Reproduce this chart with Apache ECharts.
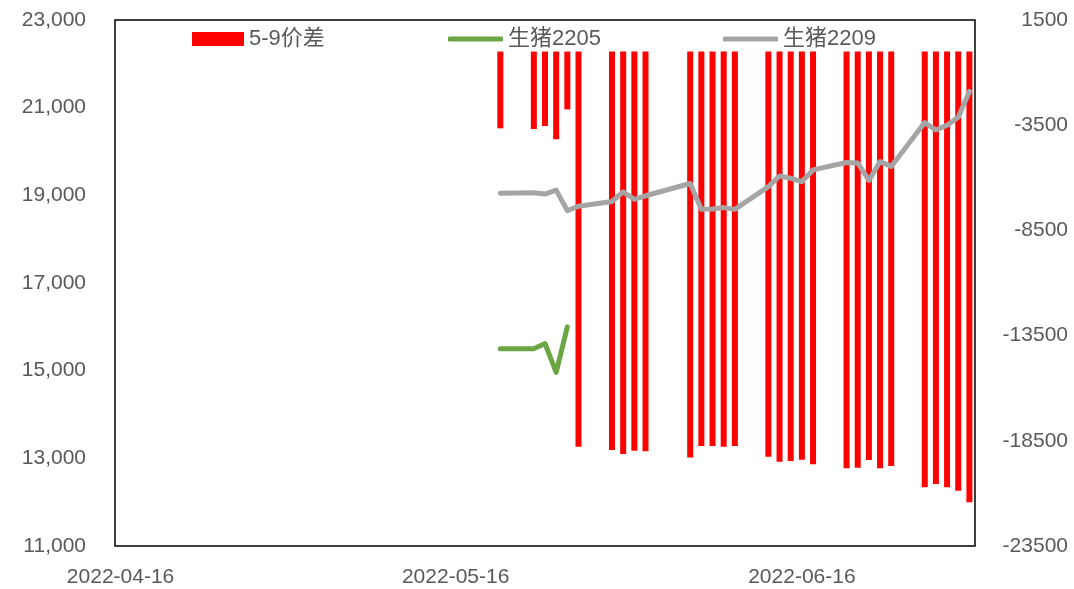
<!DOCTYPE html>
<html>
<head>
<meta charset="utf-8">
<script src="https://cdn.jsdelivr.net/npm/echarts@6/dist/echarts.min.js"></script>
<style>
html,body{margin:0;padding:0;background:#fff;}
#chart{width:1074px;height:589px;}
</style>
</head>
<body>
<div id="chart"></div>
<script>
// ---- data ----
const tradeDates = [
  '2022-05-20','2022-05-23','2022-05-24','2022-05-25','2022-05-26','2022-05-27',
  '2022-05-30','2022-05-31','2022-06-01','2022-06-02',
  '2022-06-06','2022-06-07','2022-06-08','2022-06-09','2022-06-10',
  '2022-06-13','2022-06-14','2022-06-15','2022-06-16','2022-06-17',
  '2022-06-20','2022-06-21','2022-06-22','2022-06-23','2022-06-24',
  '2022-06-27','2022-06-28','2022-06-29','2022-06-30','2022-07-01'
];
const spread59 = [
  -3650,-3680,-3540,-4170,-2750,-18780,
  -18940,-19130,-18970,-19000,
  -19290,-18750,-18750,-18780,-18750,
  -19260,-19490,-19460,-19400,-19620,
  -19810,-19780,-19410,-19810,-19700,
  -20710,-20550,-20710,-20870,-21420
];
const lh2205 = [15500,15500,15620,14960,16000];
const lh2209 = [
  19050,19060,19030,19120,18650,18750,
  18860,19080,18910,18990,
  19270,18680,18690,18720,18680,
  19200,19440,19390,19310,19580,
  19750,19740,19340,19770,19660,
  20660,20490,20600,20780,21370
];
const axisStart = '2022-04-16';
const axisEnd = '2022-07-01';
const xLabelDates = ['2022-04-16','2022-05-16','2022-06-16'];
const leftTicks = {min: 11000, max: 23000, interval: 2000};
const rightTicks = {min: -23500, max: 1500, interval: 5000};
const names = ['5-9价差','生猪2205','生猪2209'];

// ---- build calendar categories ----
function fmt(d){
  const m = String(d.getUTCMonth()+1).padStart(2,'0');
  const dd = String(d.getUTCDate()).padStart(2,'0');
  return d.getUTCFullYear()+'-'+m+'-'+dd;
}
const cats = [];
for (let t = Date.parse(axisStart+'T00:00:00Z'); t <= Date.parse(axisEnd+'T00:00:00Z'); t += 86400000) {
  cats.push(fmt(new Date(t)));
}
function mapTo(dates, vals){
  const m = {};
  dates.forEach((d,i)=>{ if (i < vals.length) m[d] = vals[i]; });
  return cats.map(c => (c in m) ? m[c] : null);
}
const barData = mapTo(tradeDates, spread59);
const g2205 = mapTo(tradeDates, lh2205);
const g2209 = mapTo(tradeDates, lh2209);

const FONT = "'Liberation Sans','Noto Sans CJK SC',sans-serif";
const TXT = '#595959';

const chart = echarts.init(document.getElementById('chart'), null, {renderer:'canvas'});
const legendText = {color: TXT, fontSize: 22, fontFamily: FONT};
chart.setOption({
  animation: false,
  backgroundColor: '#fff',
  grid: {left: 115, right: 99, top: 20, bottom: 43, show: true, borderColor: '#000', borderWidth: 1.5, backgroundColor: 'transparent'},
  legend: [
    {data: [names[0]], left: 192, top: 28, padding: 0, icon: 'rect', itemWidth: 52, itemHeight: 14, textStyle: legendText},
    {data: [names[1]], left: 448, top: 28, padding: 0, icon: 'roundRect', itemWidth: 55, itemHeight: 5, textStyle: legendText},
    {data: [names[2]], left: 723, top: 28, padding: 0, icon: 'roundRect', itemWidth: 55, itemHeight: 5, textStyle: legendText}
  ],
  xAxis: {
    type: 'category',
    data: cats,
    boundaryGap: true,
    axisLine: {show: false},
    axisTick: {show: false},
    splitLine: {show: false},
    axisLabel: {
      interval: (i, v) => xLabelDates.indexOf(v) >= 0,
      color: TXT, fontSize: 21, fontFamily: FONT, margin: 21
    }
  },
  yAxis: [
    {
      type: 'value', position: 'left',
      min: leftTicks.min, max: leftTicks.max, interval: leftTicks.interval,
      axisLine: {show: false}, axisTick: {show: false}, splitLine: {show: false},
      axisLabel: {
        color: TXT, fontSize: 21, fontFamily: FONT, margin: 29,
        formatter: v => String(v).replace(/\B(?=(\d{3})+(?!\d))/g, ',')
      }
    },
    {
      type: 'value', position: 'right',
      min: rightTicks.min, max: rightTicks.max, interval: rightTicks.interval,
      axisLine: {show: false}, axisTick: {show: false}, splitLine: {show: false},
      axisLabel: {color: TXT, fontSize: 21, fontFamily: FONT, margin: 93, align: 'right',
        formatter: v => String(v)}
    }
  ],
  series: [
    {
      name: names[0], type: 'bar', yAxisIndex: 1, data: barData,
      barWidth: 6, itemStyle: {color: '#FF0000'}, z: 1
    },
    {
      name: names[1], type: 'line', yAxisIndex: 0, data: g2205,
      connectNulls: true, showSymbol: false, symbol: 'none',
      lineStyle: {color: '#6CA644', width: 5, cap: 'round', join: 'round'},
      itemStyle: {color: '#6CA644'}, z: 3
    },
    {
      name: names[2], type: 'line', yAxisIndex: 0, data: g2209,
      connectNulls: true, showSymbol: false, symbol: 'none',
      lineStyle: {color: '#A5A5A5', width: 5, cap: 'round', join: 'round'},
      itemStyle: {color: '#A5A5A5'}, z: 3
    }
  ]
});
</script>
</body>
</html>
